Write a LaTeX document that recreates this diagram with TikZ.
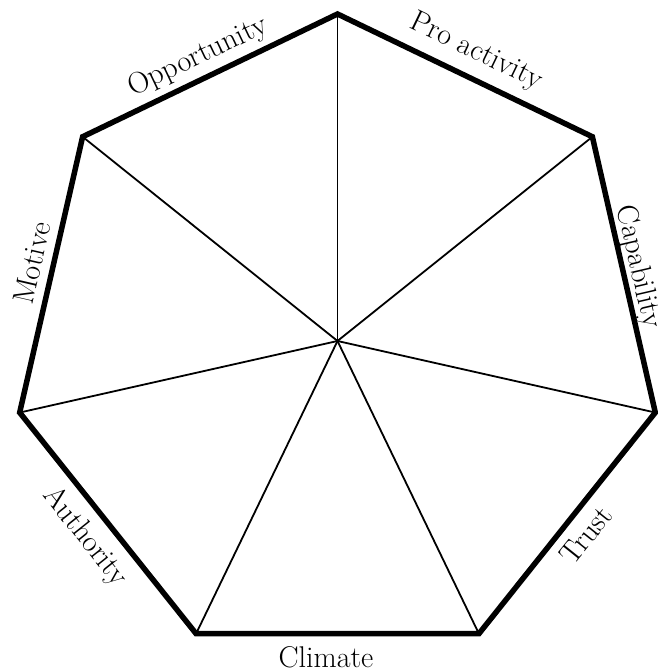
\documentclass[tikz,border=0pt]{standalone}
\begin{document}
\begin{tikzpicture}[x=1pt,y=1pt,
  rim/.style={line width=5.5pt,line join=miter},
  spoke/.style={line width=1.8pt},
  lab/.style={inner sep=0pt,font=\fontsize{30}{32}\selectfont}]
\useasboundingbox (0,0) rectangle (658,670);
\coordinate (c) at (337.5,329);
\coordinate (g) at (337.5,330);
\path (g) ++(90:326) coordinate (v0)
      (g) ++(38.57:326) coordinate (v1)
      (g) ++(-12.86:326) coordinate (v2)
      (g) ++(-64.29:326) coordinate (v3)
      (g) ++(-115.71:326) coordinate (v4)
      (g) ++(-167.14:326) coordinate (v5)
      (g) ++(141.43:326) coordinate (v6);
\foreach \i in {0,...,6} \draw[spoke] (c) -- (v\i);
\draw[rim] (v0) -- (v1) -- (v2) -- (v3) -- (v4) -- (v5) -- (v6) -- cycle;
\node[lab,rotate=25.5] (opp) at (198,613) {Opportunity};
\node[lab,rotate=-25.8] (pro) at (476,618) {Pro activity};
\node[lab,rotate=-77] (cap) at (638,403) {Capability};
\node[lab,rotate=77] (mot) at (32,407) {Motive};
\node[lab,rotate=-51.4] (aut) at (85,133) {Authority};
\node[lab,rotate=51.3] (tru) at (586,135) {Trust};
\node[lab] (cli) at (326,13) {Climate};
\end{tikzpicture}
\end{document}
